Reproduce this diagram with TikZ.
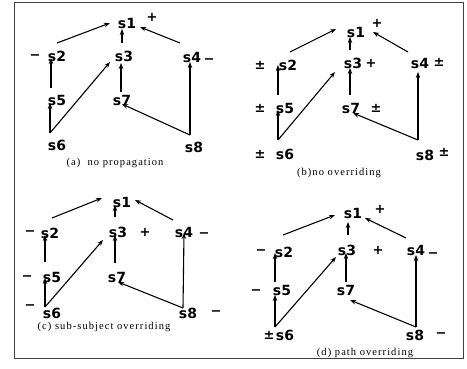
\documentclass[tikz,border=0pt]{standalone}
\usepackage{fontspec}
\setmainfont{Liberation Serif}
\newfontfamily\nodefont{DejaVu Sans}
\newfontfamily\capfont[LetterSpace=10]{Liberation Serif}
\usetikzlibrary{arrows.meta}
\tikzset{
  sn/.style={font=\nodefont\bfseries\fontsize{14}{15}\selectfont, inner sep=0pt},
  sg/.style={font=\nodefont\bfseries\fontsize{13}{14}\selectfont, inner sep=0pt},
  sgb/.style={font=\nodefont\bfseries\fontsize{13}{14}\selectfont, inner sep=0pt},
  captext/.style={font=\capfont\fontsize{10.5}{12}\selectfont, inner sep=0pt},
  arr/.style={-{Stealth[length=6pt,width=4.5pt]}, line width=1.1pt},
  frame/.style={line width=0.8pt, draw=black!75}
}
\begin{document}
\begin{tikzpicture}[x=1pt,y=-1pt]
\useasboundingbox (0,0) rectangle (467,368);
\draw[frame] (14,2) rectangle (463,358);

% ---------- (a) ----------
\node[sn] (a1) at (127,23) {s1};
\node[sn] (a2) at (57,56) {s2};
\node[sn] (a3) at (124,56) {s3};
\node[sn] (a4) at (192,57) {s4};
\node[sn] (a5) at (57,100) {s5};
\node[sn] (a7) at (122,100) {s7};
\node[sn] (a6) at (57,145) {s6};
\node[sn] (a8) at (194,147) {s8};
\node[sgb] (a1s) at (152,17) {+};
\node[sg] (a2s) at (35,57) {−};
\node[sg] (a4s) at (209,61) {−};
\node[captext] (acap) at (115,163) {(a)\ \ no propagation};
\draw[arr] ([shift={(0,-13)}]a2.center) -- ([shift={(-17,0)}]a1.center);
\draw[arr] ([shift={(-2,-13)}]a3.center) -- ([shift={(-5,6)}]a1.center);
\draw[arr] ([shift={(-12,-14)}]a4.center) -- ([shift={(13,4)}]a1.center);
\draw[arr] ([shift={(-6,-12)}]a5.center) -- ([shift={(-6,2)}]a2.center);
\draw[arr] ([shift={(-7,-12)}]a6.center) -- ([shift={(-7,3)}]a5.center);
\draw[arr] ([shift={(-7,-12)}]a6.center) -- ([shift={(-14,6)}]a3.center);
\draw[arr] ([shift={(-1,-8)}]a7.center) -- ([shift={(-3,7)}]a3.center);
\draw[arr] ([shift={(-4,-12)}]a8.center) -- ([shift={(0,4)}]a7.center);
\draw[arr] ([shift={(-4,-12)}]a8.center) -- ([shift={(-2,5)}]a4.center);

% ---------- (b) ----------
\node[sn] (b1) at (356,32) {s1};
\node[sn] (b2) at (288,65) {s2};
\node[sn] (b3) at (353,63) {s3};
\node[sn] (b4) at (420,63) {s4};
\node[sn] (b5) at (285,108) {s5};
\node[sn] (b7) at (351,108) {s7};
\node[sn] (b6) at (285,154) {s6};
\node[sn] (b8) at (425,155) {s8};
\node[sgb] (b1s) at (377,23) {+};
\node[sg] (b2s) at (260,65) {±};
\node[sgb] (b3s) at (371,63) {+};
\node[sg] (b4s) at (439,62) {±};
\node[sg] (b5s) at (260,108) {±};
\node[sg] (b7s) at (376,108) {±};
\node[sg] (b6s) at (260,154) {±};
\node[sg] (b8s) at (444,152) {±};
\node[captext] (bcap) at (339,173) {(b)no overriding};
\draw[arr] ([shift={(2,-13)}]b2.center) -- ([shift={(-20,-3)}]b1.center);
\draw[arr] ([shift={(-3,-13)}]b3.center) -- ([shift={(-6,5)}]b1.center);
\draw[arr] ([shift={(-12,-11)}]b4.center) -- ([shift={(17,0)}]b1.center);
\draw[arr] ([shift={(-7,-13)}]b5.center) -- ([shift={(-10,0)}]b2.center);
\draw[arr] ([shift={(-7,-14)}]b6.center) -- ([shift={(-7,2)}]b5.center);
\draw[arr] ([shift={(-7,-14)}]b6.center) -- ([shift={(-18,9)}]b3.center);
\draw[arr] ([shift={(-1,-13)}]b7.center) -- ([shift={(-3,5)}]b3.center);
\draw[arr] ([shift={(-7,-15)}]b8.center) -- ([shift={(2,5)}]b7.center);
\draw[arr] ([shift={(-7,-15)}]b8.center) -- ([shift={(-2,9)}]b4.center);

% ---------- (c) ----------
\node[sn] (c1) at (122,202) {s1};
\node[sn] (c2) at (50,233) {s2};
\node[sn] (c3) at (118,232) {s3};
\node[sn] (c4) at (184,232) {s4};
\node[sn] (c5) at (52,277) {s5};
\node[sn] (c7) at (117,277) {s7};
\node[sn] (c6) at (52,313) {s6};
\node[sn] (c8) at (188,313) {s8};
\node[sg] (c2s) at (30,233) {−};
\node[sgb] (c3s) at (145,232) {+};
\node[sg] (c4s) at (204,235) {−};
\node[sg] (c5s) at (27,278) {−};
\node[sg] (c6s) at (30,307) {−};
\node[sg] (c8s) at (216,313) {−};
\node[captext] (ccap) at (104,327) {(c) sub-subject overriding};
\draw[arr] ([shift={(2,-15)}]c2.center) -- ([shift={(-20,-4)}]c1.center);
\draw[arr] ([shift={(-3,-15)}]c3.center) -- ([shift={(-7,3)}]c1.center);
\draw[arr] ([shift={(-11,-12)}]c4.center) -- ([shift={(13,-2)}]c1.center);
\draw[arr] ([shift={(-7,-15)}]c5.center) -- ([shift={(-5,2)}]c2.center);
\draw[arr] ([shift={(-7,-6)}]c6.center) -- ([shift={(-7,1)}]c5.center);
\draw[arr] ([shift={(-7,-6)}]c6.center) -- ([shift={(-15,8)}]c3.center);
\draw[arr] ([shift={(-2,-14)}]c7.center) -- ([shift={(-3,3)}]c3.center);
\draw[arr] ([shift={(-5,-5)}]c8.center) -- ([shift={(1,5)}]c7.center);
\draw[arr] ([shift={(-5,-5)}]c8.center) -- ([shift={(0,1)}]c4.center);

% ---------- (d) ----------
\node[sn] (d1) at (353,213) {s1};
\node[sn] (d2) at (284,252) {s2};
\node[sn] (d3) at (347,250) {s3};
\node[sn] (d4) at (416,250) {s4};
\node[sn] (d5) at (282,290) {s5};
\node[sn] (d7) at (346,290) {s7};
\node[sn] (d6) at (285,335) {s6};
\node[sn] (d8) at (415,335) {s8};
\node[sgb] (d1s) at (380,209) {+};
\node[sg] (d2s) at (261,252) {−};
\node[sgb] (d3s) at (378,250) {+};
\node[sg] (d4s) at (433,255) {−};
\node[sg] (d5s) at (256,292) {−};
\node[sg] (d6s) at (269,335) {±};
\node[sg] (d8s) at (441,335) {−};
\node[captext] (dcap) at (365,353) {(d) path overriding};
\draw[arr] ([shift={(-1,-17)}]d2.center) -- ([shift={(-18,2)}]d1.center);
\draw[arr] ([shift={(1,-15)}]d3.center) -- ([shift={(-5,9)}]d1.center);
\draw[arr] ([shift={(-10,-12)}]d4.center) -- ([shift={(12,5)}]d1.center);
\draw[arr] ([shift={(-7,-8)}]d5.center) -- ([shift={(-9,1)}]d2.center);
\draw[arr] ([shift={(-10,-8)}]d6.center) -- ([shift={(-7,5)}]d5.center);
\draw[arr] ([shift={(-10,-8)}]d6.center) -- ([shift={(-11,7)}]d3.center);
\draw[arr] ([shift={(0,-8)}]d7.center) -- ([shift={(-1,3)}]d3.center);
\draw[arr] ([shift={(1,-8)}]d8.center) -- ([shift={(4,10)}]d7.center);
\draw[arr] ([shift={(1,-8)}]d8.center) -- ([shift={(0,5)}]d4.center);
\end{tikzpicture}
\end{document}
